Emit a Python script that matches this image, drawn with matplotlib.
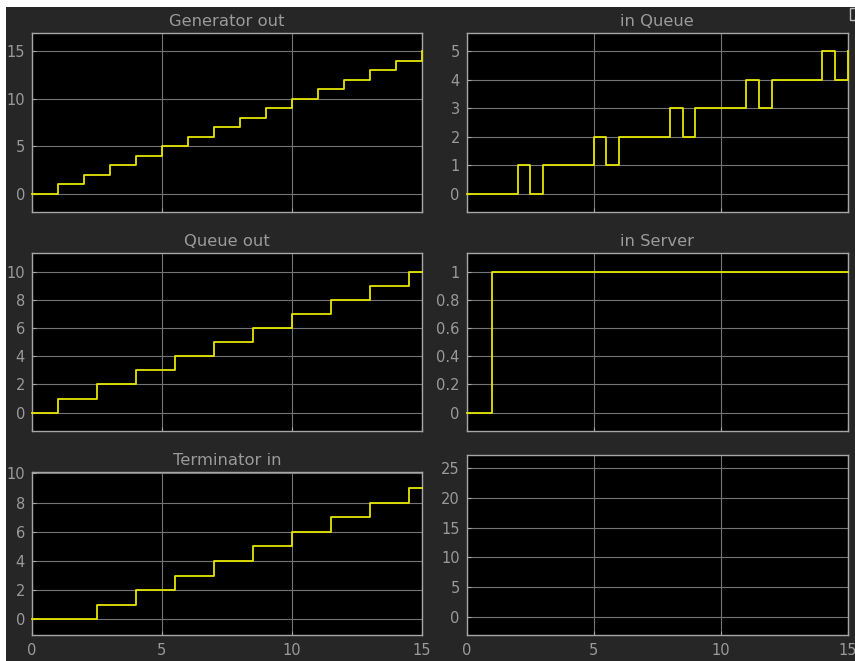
import matplotlib
matplotlib.use("Agg")
import matplotlib.pyplot as plt
from matplotlib.patches import Rectangle

# Signal logs (time, value) from the queueing model scopes
gen_t = [0, 1, 2, 3, 4, 5, 6, 7, 8, 9, 10, 11, 12, 13, 14, 15]
gen_v = [0, 1, 2, 3, 4, 5, 6, 7, 8, 9, 10, 11, 12, 13, 14, 15]

inq_t = [0, 2, 2.5, 3, 5, 5.5, 6, 8, 8.5, 9, 11, 11.5, 12, 14, 14.5, 15]
inq_v = [0, 1, 0, 1, 2, 1, 2, 3, 2, 3, 4, 3, 4, 5, 4, 5]

qout_t = [0, 1, 2.5, 4, 5.5, 7, 8.5, 10, 11.5, 13, 14.5, 15]
qout_v = [0, 1, 2, 3, 4, 5, 6, 7, 8, 9, 10, 10]

srv_t = [0, 1, 15]
srv_v = [0, 1, 1]

term_t = [0, 2.5, 4, 5.5, 7, 8.5, 10, 11.5, 13, 14.5, 15]
term_v = [0, 1, 2, 3, 4, 5, 6, 7, 8, 9, 9]

titles = ["Generator out", "in Queue", "Queue out", "in Server", "Terminator in", ""]
x_ticks = [0, 5, 10, 15]

W, H = 855, 661
BG = "#262626"
TXT = "#9a9a9a"
SPINE = "#a6a6a6"
GRID = "#747474"
LINE = "#e6e600"

fig = plt.figure(figsize=(W / 100, H / 100), dpi=100, facecolor="white")
fig.patches.append(Rectangle((6 / W, 0), 1 - 6 / W, 1 - 7 / H, transform=fig.transFigure,
                             facecolor=BG, edgecolor="none", zorder=-10))
# small window-control glyph in the corner
fig.patches.append(Rectangle((850 / W, 1 - 20 / H), 8 / W, 12 / H, transform=fig.transFigure,
                             facecolor="none", edgecolor="#bbbbbb", lw=1.0, zorder=5))


def px_axes(x0, y0, x1, y1):
    return fig.add_axes([x0 / W, 1 - y1 / H, (x1 - x0) / W, (y1 - y0) / H])


left_x = (32, 421.5)
right_x = (466.7, 847.7)
axs = [
    px_axes(left_x[0], 32.7, left_x[1], 212),
    px_axes(right_x[0], 32.7, right_x[1], 212),
    px_axes(left_x[0], 253.3, left_x[1], 431),
    px_axes(right_x[0], 253.3, right_x[1], 431),
    px_axes(left_x[0], 472.3, left_x[1], 635),
    px_axes(right_x[0], 455, right_x[1], 635),
]

series = [(gen_t, gen_v), (inq_t, inq_v), (qout_t, qout_v), (srv_t, srv_v), (term_t, term_v), None]
ylims = [(-1.95, 16.95), (-0.65, 5.65), (-1.3, 11.3), (-0.13, 1.13), (-1.07, 10.08), (-3.08, 27.24)]
yticks = [[0, 5, 10, 15], [0, 1, 2, 3, 4, 5], [0, 2, 4, 6, 8, 10],
          [0, 0.2, 0.4, 0.6, 0.8, 1], [0, 2, 4, 6, 8, 10], [0, 5, 10, 15, 20, 25]]

for i, ax in enumerate(axs):
    ax.set_facecolor("black")
    if series[i] is not None:
        t, v = series[i]
        ax.plot(t, v, drawstyle="steps-post", color=LINE, lw=1.3, zorder=3, clip_on=False)
    ax.set_xlim(0, 15)
    ax.set_ylim(*ylims[i])
    ax.set_xticks(x_ticks)
    ax.set_yticks(yticks[i])
    ax.set_yticklabels([("%g" % y) for y in yticks[i]])
    ax.grid(True, color=GRID, lw=0.8)
    ax.set_axisbelow(True)
    for s in ax.spines.values():
        s.set_color(SPINE)
        s.set_linewidth(1.0)
    ax.tick_params(axis="both", colors=SPINE, labelcolor=TXT, labelsize=10.5,
                   direction="in", length=3, width=0.8)
    ax.tick_params(axis="y", pad=5)
    ax.tick_params(axis="x", pad=6)
    if i < 4:
        ax.tick_params(axis="x", labelbottom=False)
    if titles[i]:
        ax.set_title(titles[i], color=TXT, fontsize=11.8, pad=5)

fig.savefig("out.png", dpi=100, facecolor=fig.get_facecolor())
